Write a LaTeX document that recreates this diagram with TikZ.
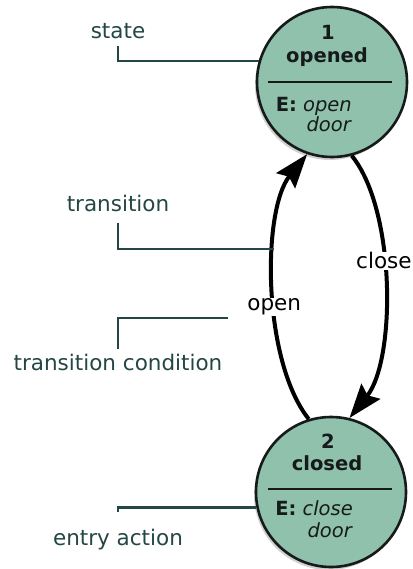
\documentclass[tikz,border=0pt]{standalone}
\usepackage{fontspec}
\setmainfont{DejaVu Sans}
\usepackage{xcolor}
\usetikzlibrary{shadows,arrows.meta,calc,positioning}
\definecolor{statefill}{RGB}{143,193,172}
\definecolor{notecol}{RGB}{36,70,68}
\definecolor{inkcol}{RGB}{22,26,26}
\tikzset{state/.style={circle,draw=inkcol,line width=2.6pt,fill=statefill,minimum size=150pt,inner sep=0pt,
  drop shadow={shadow xshift=-2pt,shadow yshift=-3pt,opacity=0.3,fill=black!60}}}
\tikzset{trans/.style={line width=4pt,-{Stealth[length=34pt,width=24pt,inset=5pt]}}}
\tikzset{note/.style={text=notecol,inner sep=0pt,font=\fontsize{21.5}{26}\selectfont}}
\tikzset{leader/.style={draw=notecol,line width=2.8pt}}
\tikzset{stitle/.style={anchor=base,inner sep=0pt,text=inkcol,font=\fontsize{19.5}{23}\selectfont\bfseries}}
\tikzset{sentry/.style={anchor=base east,inner sep=0pt,text=inkcol,font=\fontsize{19.5}{23}\selectfont}}
\tikzset{tlabel/.style={fill=white,inner sep=0.5pt,text=black,font=\fontsize{21.5}{26}\selectfont}}

\begin{document}
\begin{tikzpicture}[x=1pt,y=-1pt]
\useasboundingbox (0,0) rectangle (412,569);
% the two states
\node[state] (opened) at (332,82) {};
\node[state] (closed) at (331,492) {};
\node[stitle] (opened-num) at (328,40) {1};
\node[stitle] (opened-name) at (327,63) {opened};
\draw[inkcol,line width=2.2pt] (268,82) -- (392,82);
\node[sentry] (opened-act) at (352,112) {\textbf{E:} \textit{open}};
\node[sentry] (opened-act2) at (352,132) {\textit{door}};
\node[stitle] (closed-num) at (328,448) {2};
\node[stitle] (closed-name) at (327,470) {closed};
\draw[inkcol,line width=2.2pt] (268,489) -- (392,489);
\node[sentry] (closed-act) at (353,515) {\textbf{E:} \textit{close}};
\node[sentry] (closed-act2) at (353,537) {\textit{door}};
% transitions
\draw[trans] (closed.107) .. controls (262,360) and (262,210) .. (opened.251)
  node[tlabel,pos=0.43] (open-lbl) {open};
\draw[trans] (opened.285) .. controls (396,210) and (396,360) .. (closed.76)
  node[tlabel,pos=0.42] (close-lbl) {close};
% notes
\coordinate (trans-hit) at (274,249);
\coordinate (cond-hit) at (228,318);
\node[note] (n-state) at (118,31) {state};
\node[note] (n-trans) at (118,203) {transition};
\node[note] (n-cond) at (118,362) {transition condition};
\node[note] (n-entry) at (118,540) {entry action};
\draw[leader] ([yshift=-7pt]n-state.south) |- (opened.164.5);
\draw[leader] ([yshift=-11pt]n-trans.south) |- (trans-hit);
\draw[leader] ([yshift=4pt]n-cond.north) |- (cond-hit);
\draw[leader] ([yshift=17pt]n-entry.north) |- (closed.192.5);
\end{tikzpicture}
\end{document}
